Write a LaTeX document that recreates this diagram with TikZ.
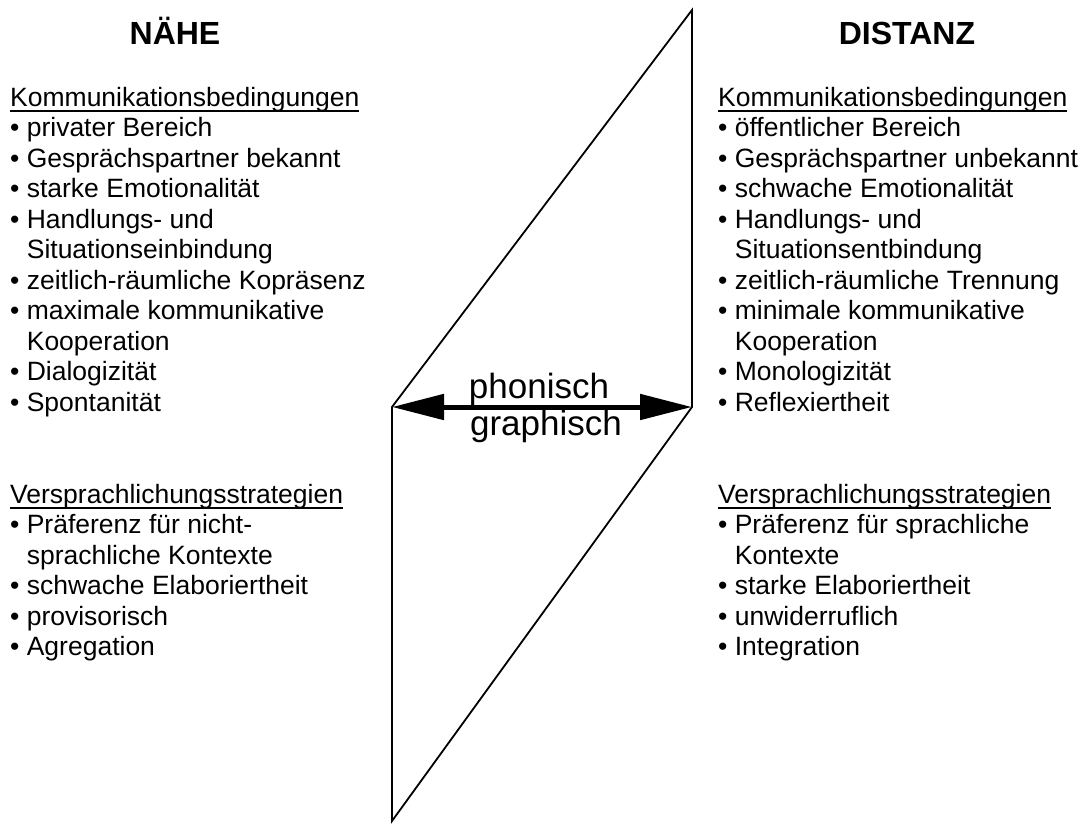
\documentclass[tikz,border=0pt]{standalone}
\usepackage{fontspec}
\setmainfont{Liberation Sans}
\usetikzlibrary{arrows.meta}
\newcommand{\bpt}{•\ }
\newcommand{\bgap}{\hphantom{•\ }}
\newcommand{\unterstrich}[1]{\setbox0\hbox{#1}\rlap{\rule[-5.6pt]{\wd0}{1.6pt}}#1}

\begin{document}
\begin{tikzpicture}[x=1pt, y=-1pt, line join=miter,
        titel/.style={font=\bfseries\fontsize{32}{38}\selectfont, inner sep=0pt, anchor=base},
        liste/.style={font=\fontsize{26.5}{30.5}\selectfont, align=left, inner sep=0pt, anchor=base west},
        medium/.style={font=\fontsize{35}{40}\selectfont, inner sep=0pt, anchor=base},
        rand/.style={line width=1.8pt},
        pfeil/.style={line width=5pt, {Triangle[length=52pt,width=25pt]}-{Triangle[length=52pt,width=25pt]}}]
    \useasboundingbox (0,0) rectangle (1080,823);

    \coordinate (links) at (392,407);
    \coordinate (oben) at (692,10);
    \coordinate (rechts) at (692,407);
    \coordinate (unten) at (392,821);
    \draw[rand] (links) -- (oben) -- (rechts) -- (unten) -- cycle;
    \draw[pfeil] (links) -- (rechts);

    \node[medium] (phonisch) at (539,398) {phonisch};
    \node[medium] (graphisch) at (546,435) {graphisch};

    \node[titel] (naehe) at (175,44) {NÄHE};
    \node[titel] (distanz) at (907,44) {DISTANZ};

    \node[liste] (bedNaehe) at (10,411) {\unterstrich{Kommunikationsbedingungen}\\
        \bpt privater Bereich\\
        \bpt Gesprächspartner bekannt\\
        \bpt starke Emotionalität\\
        \bpt Handlungs- und\\
        \bgap Situationseinbindung\\
        \bpt zeitlich-räumliche Kopräsenz\\
        \bpt maximale kommunikative\\
        \bgap Kooperation\\
        \bpt Dialogizität\\
        \bpt Spontanität};
    \node[liste] (strNaehe) at (10,655.5) {\unterstrich{Versprachlichungsstrategien}\\
        \bpt Präferenz für nicht-\\
        \bgap sprachliche Kontexte\\
        \bpt schwache Elaboriertheit\\
        \bpt provisorisch\\
        \bpt Agregation};

    \node[liste] (bedDistanz) at (718,411) {\unterstrich{Kommunikationsbedingungen}\\
        \bpt öffentlicher Bereich\\
        \bpt Gesprächspartner unbekannt\\
        \bpt schwache Emotionalität\\
        \bpt Handlungs- und\\
        \bgap Situationsentbindung\\
        \bpt zeitlich-räumliche Trennung\\
        \bpt minimale kommunikative\\
        \bgap Kooperation\\
        \bpt Monologizität\\
        \bpt Reflexiertheit};
    \node[liste] (strDistanz) at (718,655.5) {\unterstrich{Versprachlichungsstrategien}\\
        \bpt Präferenz für sprachliche\\
        \bgap Kontexte\\
        \bpt starke Elaboriertheit\\
        \bpt unwiderruflich\\
        \bpt Integration};
\end{tikzpicture}
\end{document}
